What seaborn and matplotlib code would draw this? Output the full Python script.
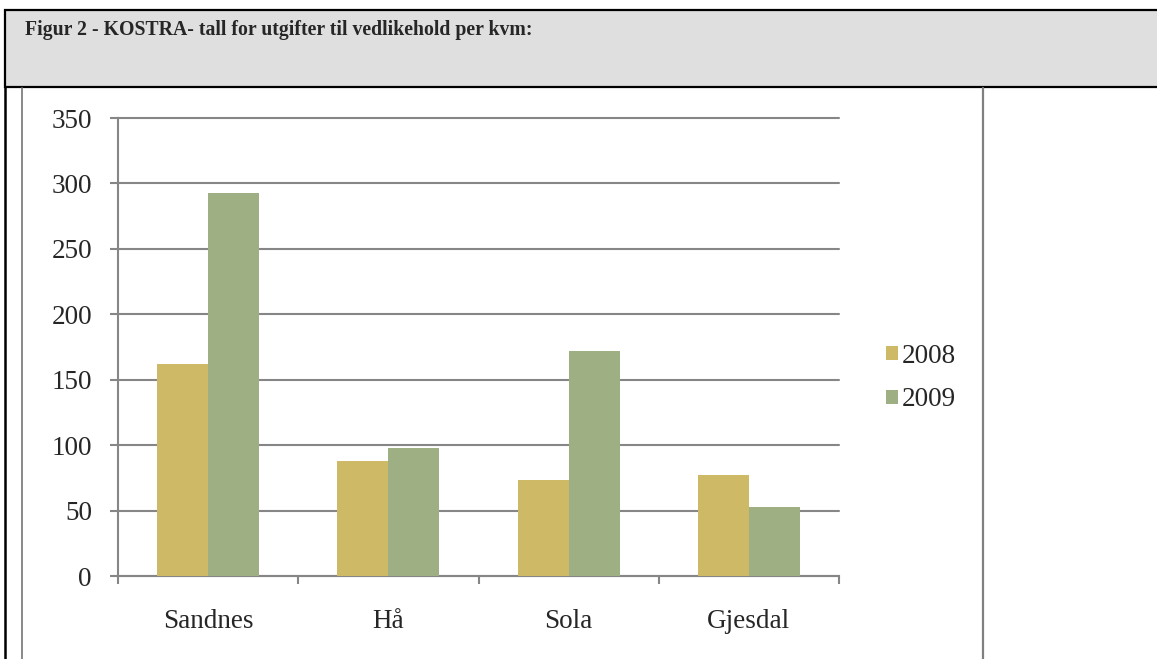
import matplotlib
matplotlib.use("Agg")
import matplotlib.pyplot as plt
import seaborn as sns
import pandas as pd
from matplotlib.patches import Rectangle
from matplotlib.lines import Line2D

# ---- data ----
kommuner = ["Sandnes", "Hå", "Sola", "Gjesdal"]
years = ["2008", "2009"]
values_2008 = [162, 88, 73, 77]
values_2009 = [293, 98, 172, 53]
yticks = [0, 50, 100, 150, 200, 250, 300, 350]
title_text = "Figur 2 - KOSTRA- tall for utgifter til vedlikehold per kvm:"

df = pd.DataFrame({
    "kommune": kommuner * 2,
    "år": [years[0]] * 4 + [years[1]] * 4,
    "verdi": values_2008 + values_2009,
})

sns.set_style("white")
plt.rcParams["font.family"] = ["Liberation Serif", "DejaVu Serif"]

W, H = 1157, 659
fig = plt.figure(figsize=(W / 100, H / 100), dpi=100)


def fx(x):
    return x / W


def fy(y):
    return 1 - y / H


# page decorations: header cell and table borders
fig.patches.append(Rectangle((fx(5), fy(87)), fx(1165 - 5), 77 / H,
                             transform=fig.transFigure, facecolor="#dfdfdf",
                             edgecolor="black", lw=1.6, zorder=0))
fig.text(fx(25), fy(30), title_text, fontsize=14.2, fontweight="bold",
         va="center", ha="left")
fig.lines.append(Line2D([fx(5), fx(5)], [fy(87), fy(665)], transform=fig.transFigure,
                        color="black", lw=1.8))
fig.lines.append(Line2D([fx(22), fx(22)], [fy(88), fy(665)], transform=fig.transFigure,
                        color="#808080", lw=1.3))
fig.lines.append(Line2D([fx(983), fx(983)], [fy(88), fy(665)], transform=fig.transFigure,
                        color="#808080", lw=1.6))

ax = fig.add_axes([fx(118), fy(576), (839 - 118) / W, (576 - 118) / H])
palette = {"2008": "#cdb966", "2009": "#9eb083"}
sns.barplot(data=df, x="kommune", y="verdi", hue="år", palette=palette,
            width=0.567, gap=0, ax=ax, linewidth=0, saturation=1, zorder=3)

grey = "#868686"
ax.set_xlim(-0.5, 3.5)
ax.set_ylim(0, 350)
ax.set_yticks(yticks)
ax.set_xlabel("")
ax.set_ylabel("")
ax.yaxis.grid(True, color=grey, lw=1.5)
ax.xaxis.grid(False)
ax.set_axisbelow(True)
for gl in ax.get_ygridlines():
    gl.set_clip_on(False)
for s in ["top", "right"]:
    ax.spines[s].set_visible(False)
for s in ["left", "bottom"]:
    ax.spines[s].set_color(grey)
    ax.spines[s].set_linewidth(1.5)

ax.tick_params(axis="y", direction="out", length=5.8, width=1.5, color=grey,
               labelsize=19.5, pad=13, left=True)
ax.tick_params(axis="x", which="major", length=0, labelsize=19.5, pad=24)
ax.set_xticks([-0.5, 0.5, 1.5, 2.5, 3.5], minor=True)
ax.tick_params(axis="x", which="minor", direction="out", length=5.8, width=1.5,
               color=grey, bottom=True)

handles, labels = ax.get_legend_handles_labels()
if ax.legend_ is not None:
    ax.legend_.remove()
fig.legend(handles, labels, loc="center left", bbox_to_anchor=(fx(872), fy(378)),
           frameon=False, fontsize=19.5, handlelength=0.45, handleheight=0.45,
           handletextpad=0.15, labelspacing=0.7, borderpad=0)

fig.savefig("out.png", dpi=100)
